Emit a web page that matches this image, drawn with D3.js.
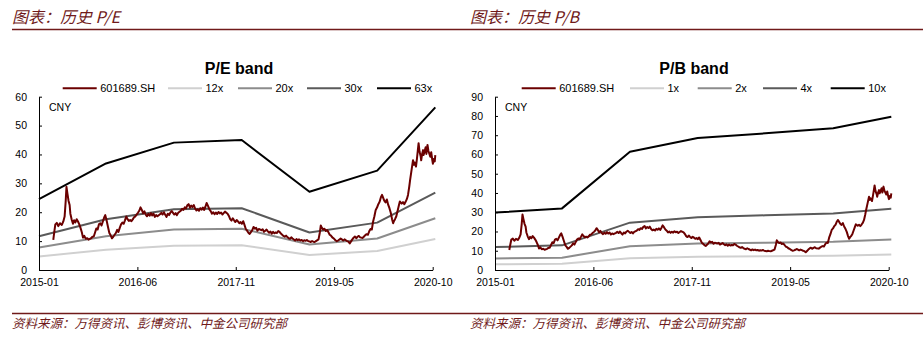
<!DOCTYPE html>
<html><head><meta charset="utf-8">
<script src="https://cdn.jsdelivr.net/npm/d3@7"></script>
<style>
html,body{margin:0;padding:0;background:#fff;}
svg{display:block;}
text{font-family:"Liberation Sans",Arial,sans-serif;}
.cjk{font-family:"Noto Sans CJK SC",sans-serif;font-style:italic;}
</style></head>
<body><svg id="c" width="923" height="343"></svg>
<script>
// ---------- DATA ----------
const priceName = "601689.SH";
const priceDates = ["2015-03-19","2015-03-24","2015-03-30","2015-04-07","2015-04-15","2015-04-24","2015-05-04","2015-05-12","2015-05-19","2015-05-25","2015-05-29","2015-06-03","2015-06-09","2015-06-15","2015-06-19","2015-06-26","2015-07-03","2015-07-09","2015-07-16","2015-07-23","2015-07-30","2015-08-06","2015-08-13","2015-08-20","2015-08-26","2015-09-02","2015-09-10","2015-09-18","2015-09-25","2015-10-09","2015-10-16","2015-10-23","2015-10-30","2015-11-06","2015-11-13","2015-11-20","2015-11-27","2015-12-04","2015-12-11","2015-12-18","2015-12-24","2015-12-31","2016-01-08","2016-01-15","2016-01-22","2016-01-29","2016-02-05","2016-02-19","2016-02-26","2016-03-04","2016-03-11","2016-03-18","2016-03-25","2016-04-01","2016-04-08","2016-04-15","2016-04-22","2016-04-29","2016-05-06","2016-05-13","2016-05-20","2016-05-27","2016-06-03","2016-06-10","2016-06-17","2016-06-24","2016-07-01","2016-07-08","2016-07-15","2016-07-22","2016-07-29","2016-08-05","2016-08-12","2016-08-19","2016-08-26","2016-09-02","2016-09-09","2016-09-16","2016-09-23","2016-09-30","2016-10-14","2016-10-21","2016-10-28","2016-11-04","2016-11-11","2016-11-18","2016-11-25","2016-12-02","2016-12-09","2016-12-16","2016-12-23","2016-12-30","2017-01-06","2017-01-13","2017-01-20","2017-02-03","2017-02-10","2017-02-17","2017-02-24","2017-03-03","2017-03-10","2017-03-17","2017-03-24","2017-03-31","2017-04-07","2017-04-14","2017-04-21","2017-04-28","2017-05-05","2017-05-12","2017-05-19","2017-05-26","2017-06-02","2017-06-09","2017-06-16","2017-06-22","2017-06-30","2017-07-07","2017-07-14","2017-07-21","2017-07-28","2017-08-04","2017-08-11","2017-08-18","2017-08-25","2017-09-01","2017-09-08","2017-09-15","2017-09-22","2017-09-29","2017-10-13","2017-10-20","2017-10-27","2017-11-03","2017-11-10","2017-11-17","2017-11-24","2017-12-01","2017-12-08","2017-12-15","2017-12-22","2017-12-29","2018-01-05","2018-01-12","2018-01-19","2018-01-26","2018-02-02","2018-02-09","2018-02-23","2018-03-02","2018-03-09","2018-03-16","2018-03-23","2018-03-30","2018-04-13","2018-04-20","2018-04-27","2018-05-04","2018-05-11","2018-05-18","2018-05-25","2018-06-01","2018-06-08","2018-06-15","2018-06-22","2018-06-29","2018-07-06","2018-07-13","2018-07-20","2018-07-27","2018-08-03","2018-08-10","2018-08-17","2018-08-24","2018-08-31","2018-09-07","2018-09-14","2018-09-21","2018-09-28","2018-10-12","2018-10-19","2018-10-26","2018-11-02","2018-11-09","2018-11-16","2018-11-23","2018-11-30","2018-12-07","2018-12-14","2018-12-21","2018-12-28","2019-01-04","2019-01-11","2019-01-18","2019-01-25","2019-02-01","2019-02-15","2019-02-22","2019-02-27","2019-03-05","2019-03-12","2019-03-19","2019-03-26","2019-04-02","2019-04-09","2019-04-16","2019-04-23","2019-04-30","2019-05-10","2019-05-17","2019-05-24","2019-05-31","2019-06-07","2019-06-14","2019-06-21","2019-06-28","2019-07-05","2019-07-12","2019-07-19","2019-07-26","2019-08-02","2019-08-09","2019-08-16","2019-08-23","2019-08-30","2019-09-06","2019-09-13","2019-09-20","2019-09-27","2019-10-11","2019-10-18","2019-10-25","2019-11-01","2019-11-08","2019-11-15","2019-11-22","2019-11-29","2019-12-06","2019-12-13","2019-12-20","2019-12-27","2020-01-03","2020-01-10","2020-01-17","2020-01-23","2020-02-04","2020-02-11","2020-02-18","2020-02-25","2020-03-03","2020-03-10","2020-03-17","2020-03-23","2020-03-27","2020-04-02","2020-04-09","2020-04-16","2020-04-23","2020-04-28","2020-05-08","2020-05-15","2020-05-22","2020-05-29","2020-06-05","2020-06-11","2020-06-18","2020-06-22","2020-07-01","2020-07-08","2020-07-13","2020-07-17","2020-07-24","2020-07-29","2020-08-03","2020-08-07","2020-08-12","2020-08-18","2020-08-21","2020-08-26","2020-08-31","2020-09-03","2020-09-08","2020-09-14","2020-09-18","2020-09-24","2020-09-29","2020-10-09","2020-10-14","2020-10-20","2020-10-23","2020-10-28","2020-11-02","2020-11-05"];
const priceValues = [10.4,13.0,15.8,16.3,15.2,16.2,15.6,16.8,18.5,24.0,28.8,26.5,24.0,22.5,19.5,17.5,16.0,17.2,16.5,17.6,16.8,15.8,14.5,13.0,11.2,11.8,10.8,11.0,10.5,11.0,11.5,11.6,13.0,14.4,14.0,15.8,16.2,15.4,16.8,18.2,19.0,17.2,14.8,12.8,12.0,11.0,11.5,12.8,13.9,13.2,14.6,15.8,16.4,16.0,17.2,18.5,17.6,17.0,17.3,16.9,17.5,18.3,18.5,19.2,19.8,20.5,21.7,20.8,19.6,20.3,19.2,18.6,19.4,18.8,19.7,18.9,19.5,18.4,19.0,18.6,19.3,19.8,19.2,20.0,19.1,18.4,19.5,19.0,19.9,20.4,19.8,19.2,19.7,19.0,19.8,20.5,21.2,20.8,21.7,21.3,22.4,22.8,21.6,22.3,21.8,22.5,21.3,20.6,21.0,20.5,21.4,20.9,21.6,20.8,22.0,23.2,22.1,21.0,20.4,19.5,20.0,19.3,19.9,19.4,20.1,19.6,19.9,19.2,19.7,20.2,19.5,18.7,17.6,17.1,17.9,17.2,16.6,17.3,16.8,16.2,16.6,16.0,16.9,15.6,14.2,13.6,12.9,12.5,13.8,14.9,14.3,14.6,13.6,14.2,13.8,14.1,13.2,13.6,14.0,13.4,12.9,13.3,12.6,13.2,12.7,13.0,12.8,13.5,13.2,12.6,12.2,11.8,11.5,11.9,11.4,11.0,10.8,11.3,10.9,10.2,10.7,10.3,10.6,10.2,10.4,10.0,10.3,10.1,10.4,10.0,9.9,9.7,10.0,9.8,9.7,10.0,10.6,13.0,15.4,14.6,14.0,14.3,13.5,13.8,13.1,12.2,11.9,11.3,10.8,10.3,10.0,10.2,10.5,10.9,10.6,10.2,10.6,10.3,10.0,9.8,9.2,9.9,10.6,11.2,11.6,11.0,11.5,11.8,11.3,11.1,11.6,12.1,12.4,12.2,13.4,14.2,14.0,16.8,18.6,20.8,21.6,22.8,23.6,25.2,26.0,24.0,23.4,24.4,22.6,21.4,19.8,17.6,16.2,16.9,17.6,18.6,20.5,22.4,23.7,23.0,23.5,22.8,23.6,24.6,26.0,29.0,31.0,35.0,38.0,36.4,37.2,35.8,38.5,41.5,43.9,41.0,39.4,38.0,40.2,41.5,39.8,41.0,42.5,40.2,43.3,41.2,39.2,40.8,38.0,36.8,38.4,37.6,39.8];

// band reset dates (kinks in the bands)
const bandDates = ["2015-01-01","2015-12-28","2016-12-28","2017-12-28","2018-12-28","2019-12-28","2020-11-05"];
// P/E bands
const peNames = ["12x","20x","30x","63x"];
const pe12 = [4.7, 7.0, 8.4, 8.6, 5.2, 6.6, 10.7];
const pe20 = [7.8, 11.7, 14.0, 14.3, 8.8, 10.9, 17.9];
const pe30 = [11.7, 17.6, 21.0, 21.4, 13.0, 16.4, 26.8];
const pe63 = [24.5, 36.9, 44.1, 45.0, 27.1, 34.4, 56.3];
// P/B bands
const pbNames = ["1x","2x","4x","10x"];
const pb1 = [3.0, 3.2, 6.1, 6.9, 7.1, 7.4, 8.0];
const pb2 = [6.0, 6.4, 12.3, 13.7, 14.2, 14.7, 15.9];
const pb4 = [11.9, 12.8, 24.6, 27.4, 28.4, 29.4, 31.8];
const pb10 = [29.8, 32.0, 61.4, 68.6, 71.0, 73.6, 79.6];

const xTickDates = ["2015-01-01","2016-06-14","2017-11-26","2019-05-10","2020-10-22"];
const xTickLabels = ["2015-01","2016-06","2017-11","2019-05","2020-10"];
const peYTicks = [0,10,20,30,40,50,60];
const pbYTicks = [0,10,20,30,40,50,60,70,80,90];

// ---------- DRAW ----------
const parse = d3.utcParse("%Y-%m-%d");
const svg = d3.select("#c");
const RED = "#6b0000";
const HDR = "#701a1a";
const bandColors = ["#d0d0d0","#8c8c8c","#5a5a5a","#000000"];

// header & footer rules
svg.append("line").attr("x1",12).attr("x2",923).attr("y1",29.5).attr("y2",29.5).attr("stroke",HDR).attr("stroke-width",1.3);
svg.append("line").attr("x1",12).attr("x2",923).attr("y1",313.5).attr("y2",313.5).attr("stroke",HDR).attr("stroke-width",1.3);

const footer = "资料来源：万得资讯、彭博资讯、中金公司研究部";

function panel(cfg){
  const g = svg.append("g");
  // header
  g.append("text").attr("class","cjk").attr("x",cfg.hx).attr("y",23).attr("fill",HDR)
    .attr("font-size",16).text(cfg.header);
  g.append("text").attr("class","cjk").attr("x",cfg.hx).attr("y",328).attr("fill",HDR)
    .attr("font-size",12.5).text(footer);
  // title
  g.append("text").attr("x",cfg.tx).attr("y",74).attr("text-anchor","middle")
    .attr("font-size",16).attr("font-weight","bold").attr("fill","#000").text(cfg.title);

  const x = d3.scaleUtc().domain([parse(xTickDates[0]), parse(xTickDates[xTickDates.length-1])]).range([cfg.x0, cfg.x1]);
  const y = d3.scaleLinear().domain([0, cfg.ymax]).range([270, 96.7]);

  // bands
  const bd = bandDates.map(parse);
  const line = d3.line().x(d=>x(d[0])).y(d=>y(d[1]));
  cfg.bands.forEach((vals,i)=>{
    g.append("path").attr("d", line(bd.map((d,j)=>[d, vals[j]])))
      .attr("fill","none").attr("stroke",bandColors[i]).attr("stroke-width",2).attr("stroke-linejoin","round");
  });
  // price
  const pts = priceDates.map((d,i)=>[parse(d), priceValues[i]]);
  g.append("path").attr("d", line(pts)).attr("fill","none").attr("stroke",RED)
    .attr("stroke-width",2).attr("stroke-linejoin","round");

  // axes
  const yAx = d3.axisLeft(y).tickValues(cfg.yticks).tickSize(-3).tickPadding(12).tickSizeOuter(0);
  const ya = g.append("g").attr("transform",`translate(${cfg.x0},0)`).call(yAx);
  ya.selectAll("text").attr("font-size",10.5).attr("font-family","Liberation Sans, Arial, sans-serif").attr("fill","#000");
  ya.selectAll("line,path").attr("stroke","#000");

  const xAx = d3.axisBottom(x).tickValues(xTickDates.map(parse)).tickFormat((d,i)=>xTickLabels[i]).tickSize(-3).tickPadding(9).tickSizeOuter(0);
  const xa = g.append("g").attr("transform","translate(0,270)").call(xAx);
  xa.selectAll("text").attr("font-size",10.5).attr("font-family","Liberation Sans, Arial, sans-serif").attr("fill","#000");
  xa.selectAll("line,path").attr("stroke","#000");

  // CNY
  g.append("text").attr("x",cfg.x0+10).attr("y",110.5).attr("font-size",10.5).attr("fill","#000").text("CNY");

  // legend
  const names = [priceName].concat(cfg.names);
  const colors = [RED].concat(bandColors);
  names.forEach((n,i)=>{
    const lx = cfg.legX[i];
    g.append("line").attr("x1",lx).attr("x2",lx+34).attr("y1",88.3).attr("y2",88.3)
      .attr("stroke",colors[i]).attr("stroke-width",2);
    g.append("text").attr("x",lx+37.5).attr("y",92.3).attr("font-size",11).attr("fill","#000").text(n);
  });
}

panel({header:"图表：历史 P/E", hx:12, title:"P/E band", tx:239, x0:39, x1:432.7, ymax:60,
  yticks:peYTicks, bands:[pe12,pe20,pe30,pe63], names:peNames, legX:[62.7,168,238,307,377]});
panel({header:"图表：历史 P/B", hx:470, title:"P/B band", tx:694, x0:495, x1:888.7, ymax:90,
  yticks:pbYTicks, bands:[pb1,pb2,pb4,pb10], names:pbNames, legX:[521.7,630,697.7,763,830.7]});
</script></body></html>
